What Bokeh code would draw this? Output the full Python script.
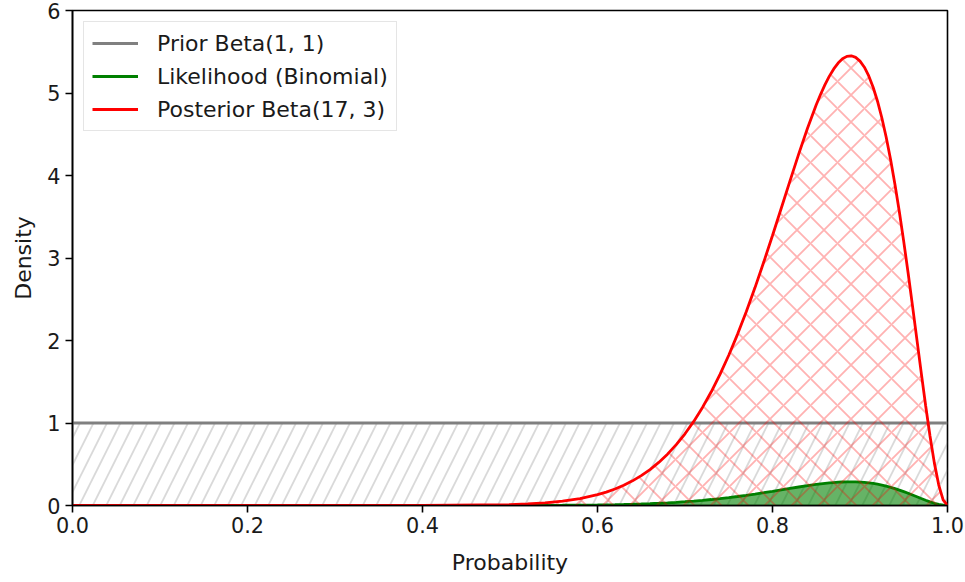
from bokeh.plotting import figure
from bokeh.models import Legend, LegendItem, Range1d, FixedTicker
from bokeh.embed import file_html
from bokeh.resources import INLINE

# Grid of success probabilities
x_vals = [0.0, 0.2, 0.4, 0.50, 0.52, 0.54, 0.56, 0.58, 0.60, 0.61, 0.62, 0.63, 0.64, 0.65, 0.66,
          0.67, 0.68, 0.69, 0.70, 0.71, 0.72, 0.73, 0.74, 0.75, 0.76, 0.77, 0.78, 0.79, 0.80,
          0.81, 0.82, 0.83, 0.84, 0.85, 0.855, 0.86, 0.865, 0.87, 0.875, 0.88, 0.885, 0.89,
          0.895, 0.90, 0.905, 0.91, 0.915, 0.92, 0.925, 0.93, 0.935, 0.94, 0.945, 0.95,
          0.955, 0.96, 0.965, 0.97, 0.975, 0.98, 0.985, 0.99, 0.995, 1.00]

# Posterior Beta(17, 3) density
posterior = [0.0, 0.0, 0.0005, 0.0111, 0.0191, 0.0322, 0.0527, 0.0841, 0.1312, 0.1625, 0.2001, 0.2451,
             0.2985, 0.3616, 0.4356, 0.5220, 0.6222, 0.7375, 0.8695, 1.0195, 1.1888, 1.3783, 1.5889,
             1.8210, 2.0745, 2.3484, 2.6412, 2.9506, 3.2730, 3.6034, 3.9356, 4.2618, 4.5725, 4.8566,
             4.9847, 5.1012, 5.2044, 5.2921, 5.3629, 5.4141, 5.4441, 5.4509, 5.4324, 5.3867, 5.3122,
             5.2071, 5.0702, 4.9003, 4.6971, 4.4603, 4.1904, 3.8887, 3.5567, 3.1987, 2.8178, 2.4204,
             2.0138, 1.6071, 1.2117, 0.8416, 0.5136, 0.2475, 0.0671, 0.0]

# Binomial likelihood (16 successes in 18 trials)
likelihood = [0.0, 0.0, 0.0, 0.0006, 0.0010, 0.0017, 0.0028, 0.0044, 0.0069, 0.0086, 0.0105, 0.0129,
              0.0157, 0.0190, 0.0229, 0.0275, 0.0328, 0.0388, 0.0458, 0.0537, 0.0626, 0.0725, 0.0836,
              0.0958, 0.1092, 0.1236, 0.1390, 0.1553, 0.1723, 0.1897, 0.2071, 0.2243, 0.2407, 0.2556,
              0.2624, 0.2685, 0.2739, 0.2785, 0.2823, 0.2850, 0.2865, 0.2869, 0.2859, 0.2835, 0.2796,
              0.2741, 0.2669, 0.2579, 0.2472, 0.2348, 0.2205, 0.2047, 0.1872, 0.1684, 0.1483, 0.1274,
              0.1060, 0.0846, 0.0638, 0.0443, 0.0270, 0.0130, 0.0035, 0.0]

# Uniform prior Beta(1, 1)
prior_x = [0.0, 1.0]
prior_y = [1.0, 1.0]

x_ticks = [0.0, 0.2, 0.4, 0.6, 0.8, 1.0]
y_ticks = [0, 1, 2, 3, 4, 5, 6]

FONT = "DejaVu Sans"
TICK_FS = "20.8px"
LABEL_FS = "22px"
TEXT_COLOR = "#1a1a1a"

p = figure(width=965, height=582, output_backend="svg", toolbar_location=None,
           x_range=Range1d(0, 1), y_range=Range1d(0, 6),
           min_border_left=72, min_border_right=18, min_border_top=10, min_border_bottom=77)

p.xgrid.visible = False
p.ygrid.visible = False
p.outline_line_color = "black"
p.outline_line_width = 1.6
p.background_fill_color = "white"
p.border_fill_color = "white"

p.xaxis.ticker = FixedTicker(ticks=x_ticks)
p.yaxis.ticker = FixedTicker(ticks=y_ticks)
p.xaxis.major_label_overrides = {t: f"{t:.1f}" for t in x_ticks}
p.xaxis.axis_label = "Probability"
p.yaxis.axis_label = "Density"
for ax in (p.xaxis, p.yaxis):
    ax.axis_line_color = "black"
    ax.axis_line_width = 1.6
    ax.major_tick_line_color = "black"
    ax.major_tick_line_width = 1.6
    ax.major_tick_out = 7
    ax.major_tick_in = 0
    ax.minor_tick_line_color = None
    ax.major_label_text_font = FONT
    ax.major_label_text_font_size = TICK_FS
    ax.major_label_text_color = TEXT_COLOR
    ax.axis_label_text_font = FONT
    ax.axis_label_text_font_size = LABEL_FS
    ax.axis_label_text_font_style = "normal"
    ax.axis_label_text_color = TEXT_COLOR
p.xaxis.major_label_standoff = 4
p.yaxis.major_label_standoff = 5
p.xaxis.axis_label_standoff = 14
p.yaxis.axis_label_standoff = 8

# Prior: hatched band under the flat density
p.varea(x=prior_x, y1=[0, 0], y2=prior_y, fill_alpha=0,
        hatch_pattern="/", hatch_color="gray", hatch_alpha=0.3, hatch_scale=27, hatch_weight=1.8)
r_prior = p.line(prior_x, prior_y, line_color="gray", line_width=2.8)

# Likelihood: solid green area
p.varea(x=x_vals, y1=[0] * len(x_vals), y2=likelihood, fill_color="green", fill_alpha=0.6)
r_like = p.line(x_vals, likelihood, line_color="green", line_width=2.8)

# Posterior: cross-hatched area
p.varea(x=x_vals, y1=[0] * len(x_vals), y2=posterior, fill_alpha=0,
        hatch_pattern="x", hatch_color="red", hatch_alpha=0.3, hatch_scale=27, hatch_weight=1.8)
r_post = p.line(x_vals, posterior, line_color="red", line_width=2.8)

legend = Legend(items=[
    LegendItem(label="Prior Beta(1, 1)", renderers=[r_prior]),
    LegendItem(label="Likelihood (Binomial)", renderers=[r_like]),
    LegendItem(label="Posterior Beta(17, 3)", renderers=[r_post]),
], location="top_left")
legend.margin = 11
legend.padding = 8
legend.spacing = 7
legend.glyph_width = 46
legend.glyph_height = 26
legend.label_height = 26
legend.label_standoff = 19
legend.label_text_font = FONT
legend.label_text_font_size = LABEL_FS
legend.label_text_color = TEXT_COLOR
legend.border_line_color = "#cccccc"
legend.border_line_width = 1.5
legend.background_fill_alpha = 0.8
p.add_layout(legend, "center")

open("out.html", "w").write(file_html(p, INLINE))
